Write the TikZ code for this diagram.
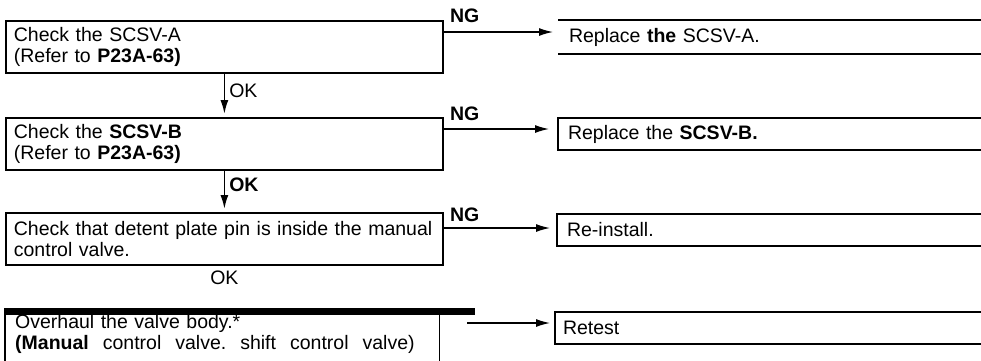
\documentclass[tikz,border=0pt]{standalone}
\usepackage{fontspec}
\setmainfont{Liberation Sans}
\usetikzlibrary{positioning,arrows.meta}

\begin{document}
\begin{tikzpicture}[x=1pt, y=-1pt,
    font=\fontsize{19.5}{21}\selectfont,
    box/.style={draw, line width=1.8pt, anchor=north west, inner xsep=8pt, text width=421pt, minimum height=52pt, align=left},
    rbox/.style={line width=2pt, anchor=north west, inner xsep=10pt, text width=420pt, minimum height=32pt, align=left},
    ng/.style={anchor=west, inner sep=0pt},
    arrow/.style={-{Latex[length=14pt,width=8pt]}, line width=1.3pt},
    okarrow/.style={-{Latex[length=14pt,width=8pt]}, line width=1.8pt, shorten >=3pt}
]
\path[use as bounding box] (0,0) rectangle (981,360);
\clip (0,0) rectangle (981,360);

\node[box] (b1) at (5,20) {Check the SCSV-A\\(Refer to \textbf{P23A-63)}};
\node[box] (b2) at (5,117) {Check the \textbf{SCSV-B}\\(Refer to \textbf{P23A-63)}};
\node[box] (b3) at (5,212) {Check that detent plate pin is inside the manual\\control valve.};
\node[anchor=north west, inner xsep=10pt, inner ysep=3pt, text width=414pt, align=left] (b4) at (5,311) {Overhaul the valve body.*\\{\spaceskip=14pt\xspaceskip=14pt\textbf{(Manual} control valve. shift control valve)}};
\draw[line width=1.8pt] (b4.north west) -- ++(0,60) (b4.north east) -- ++(0,60);
\draw[line width=7pt] ([xshift=-1pt]b4.north west) -- ([xshift=36pt]b4.north east);

\node[rbox] (r1) at (558,20) {Replace \textbf{the} SCSV-A.};
\draw[line width=2pt] (r1.north west) -- (r1.north east) (r1.south west) -- (r1.south east);
\node[rbox, draw] (r2) at (557,117) {Replace the \textbf{SCSV-B.}};
\node[rbox, draw] (r3) at (556,213) {Re-install.};
\node[rbox, draw, inner xsep=8pt] (r4) at (554,311) {Retest};

\node[ng] (ng1) at ([xshift=6pt,yshift=4pt]b1.north east) {\textbf{NG}};
\node[ng] (ng2) at ([xshift=6pt,yshift=3pt]b2.north east) {\textbf{NG}};
\node[ng] (ng3) at ([xshift=6pt,yshift=-3pt]b3.north east) {\textbf{NG}};

\coordinate (n1) at ([yshift=-12pt]b1.north east);
\coordinate (n2) at ([yshift=-12pt]b2.north east);
\coordinate (n3) at ([yshift=-16pt]b3.north east);
\coordinate (s4) at ([xshift=28pt,yshift=-12pt]b4.north east);
\draw[arrow, shorten >=5pt] (n1) -- (n1 -| r1.west);
\draw[arrow, shorten >=8pt] (n2) -- (n2 -| r2.west);
\draw[arrow, shorten >=6pt] (n3) -- (n3 -| r3.west);
\draw[arrow, shorten >=4pt] (s4) -- (s4 -| r4.west);

\draw[okarrow] (b1) -- node[right, pos=0.4, inner sep=4pt] (ok1) {OK} (b2);
\draw[okarrow] (b2) -- node[right, pos=0.35, inner sep=4pt] (ok2) {\textbf{OK}} (b3);
\node[below=2pt of b3] (ok3) {OK};
\end{tikzpicture}
\end{document}
